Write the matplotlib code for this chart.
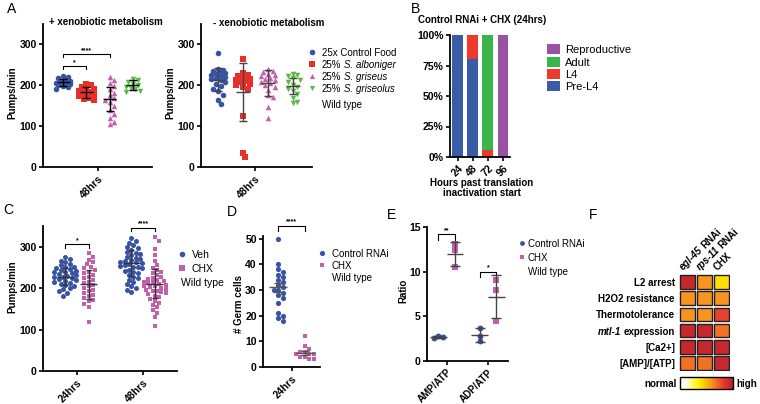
import numpy as np
import matplotlib
matplotlib.use('Agg')
import matplotlib.pyplot as plt
from matplotlib.patches import Rectangle
from matplotlib.colors import LinearSegmentedColormap
from matplotlib.cm import ScalarMappable

plt.rcParams['font.family'] = ['Liberation Sans', 'DejaVu Sans']
plt.rcParams['font.weight'] = 'bold'
plt.rcParams['axes.linewidth'] = 1.3

W, H = 760, 404

# ---------------- data ----------------
# A: pumps/min at 48hrs, + / - xenobiotic metabolism
food_labels = ['25x Control Food', 'S. alboniger', 'S. griseus', 'S. griseolus']
plus_ctrl = [222, 220, 218, 214, 210, 208, 206, 205, 203, 200, 198, 195, 192]
plus_alb = [204, 200, 196, 193, 190, 186, 183, 180, 177, 174, 170, 166, 163]
plus_gri = [220, 212, 205, 198, 190, 182, 175, 170, 165, 158, 150, 140, 130, 120, 110, 105]
plus_grl = [215, 212, 208, 204, 200, 197, 193, 190, 186, 184]
plus_mean = [207, 183, 166, 201]
plus_sd = [9, 13, 29, 13]

minus_ctrl = [279, 240, 238, 235, 232, 230, 228, 225, 222, 220, 218, 215, 212, 208,
              203, 198, 192, 185, 175, 165, 154]
minus_alb = [265, 230, 226, 222, 218, 215, 212, 210, 207, 203, 200, 195, 190, 124, 35, 24]
minus_gri = [240, 236, 232, 228, 225, 222, 218, 215, 212, 208, 205, 200, 195, 188, 175,
             172, 147, 120]
minus_grl = [228, 225, 222, 218, 214, 208, 200, 195, 190, 185, 178, 170, 160, 157]
minus_mean = [214, 183, 206, 199]
minus_sd = [29, 71, 32, 20]

# B: developmental stage (%) after CHX
hours = ['24', '48', '72', '96']
pre_l4 = [100, 80, 0, 0]
l4 = [0, 20, 6, 0]
adult = [0, 0, 94, 0]
reproductive = [0, 0, 0, 100]

# C: pumps/min, Veh vs CHX
c_times = ['24hrs', '48hrs']
veh24 = [274, 270, 266, 262, 258, 255, 252, 250, 248, 246, 244, 242, 240, 238, 236, 234,
         232, 230, 228, 226, 224, 222, 220, 218, 216, 213, 210, 207, 204, 200, 197, 193,
         188, 182]
chx24 = [284, 275, 268, 262, 258, 252, 248, 244, 240, 236, 232, 228, 224, 220, 216, 212,
         208, 204, 200, 196, 192, 188, 184, 180, 176, 172, 168, 162, 155, 119]
veh48 = [320, 315, 310, 305, 300, 296, 292, 288, 285, 282, 279, 276, 273, 270, 268, 266,
         264, 262, 260, 258, 256, 254, 252, 250, 248, 245, 242, 239, 236, 232, 228, 224,
         220, 215, 210, 205, 200, 196, 191]
chx48 = [324, 315, 295, 280, 265, 255, 248, 244, 240, 236, 232, 228, 225, 222, 220, 218,
         216, 214, 212, 210, 208, 206, 204, 202, 200, 198, 196, 194, 192, 190, 188, 185,
         182, 178, 174, 170, 165, 160, 155, 148, 140, 130, 108]
c_mean = [228, 209, 260, 211]
c_sd = [20, 36, 31, 35]

# D: germ cells at 24hrs
germ_ctrl = [50, 40, 38, 37, 36, 35, 34, 33, 32, 31, 30, 30, 29, 28, 27, 25, 21, 20, 19, 18]
germ_chx = [12, 8, 7, 6, 6, 5, 5, 5, 4, 4, 3, 3]
d_mean = [31, 5.5]
d_sem = [1.8, 0.8]

# E: nucleotide ratios
ratio_names = ['AMP/ATP', 'ADP/ATP']
ctrl_amp = [2.8, 2.7, 2.6]
chx_amp = [13.1, 12.4, 10.5]
ctrl_adp = [3.7, 2.8, 2.2]
chx_adp = [9.1, 8.0, 4.5]

# F: phenotype summary
f_rows = ['L2 arrest', 'H2O2 resistance', 'Thermotolerance', 'mtl-1 expression',
          '[Ca2+]', '[AMP]/[ATP]']
f_cols = ['egl-45 RNAi', 'rps-11 RNAi', 'CHX']
f_vals = [[0.93, 0.60, 0.40],
          [0.60, 0.60, 0.60],
          [0.60, 0.60, 0.80],
          [0.93, 0.93, 0.68],
          [0.93, 0.93, 0.93],
          [0.68, 0.68, 0.93]]

BLUE = '#3853a4'
RED = '#e8302a'
PINK = '#c260ab'
GREEN = '#5cb947'
B_BLUE, B_RED, B_GREEN, B_PURPLE = '#3a5ba8', '#ee3a2b', '#3ab54a', '#9b52a3'

fig = plt.figure(figsize=(7.6, 4.04), dpi=100)
lay = fig.add_axes([0, 0, 1, 1], zorder=10)
lay.set_xlim(0, W); lay.set_ylim(H, 0); lay.axis('off')
rend = fig.canvas.get_renderer()


def panel(x0, y0, x1, y1):
    ax = fig.add_axes([x0 / W, 1 - y1 / H, (x1 - x0) / W, (y1 - y0) / H])
    ax.spines[['top', 'right']].set_visible(False)
    ax.tick_params(direction='out', length=3, width=1.2, labelsize=7.5, pad=1.5)
    ax.patch.set_alpha(0)
    return ax


def swarm(vals, sx, sy, d, maxw):
    # horizontal offsets (pixel packing) so markers overlap as little as possible
    vals = np.asarray(vals, float)
    offs = np.zeros(len(vals))
    placed = []
    steps = np.arange(0, maxw + 0.01, d * 0.5)
    cands = [0.0]
    for st in steps[1:]:
        cands += [st, -st]
    for i in np.argsort(-vals):
        y = vals[i] * sy
        best, bestd = 0.0, -1
        for c in cands:
            md = min([np.hypot(c - px, y - py) for px, py in placed], default=1e9)
            if md >= d:
                best = c
                break
            if md > bestd:
                best, bestd = c, md
        placed.append((best, y))
        offs[i] = best / sx
    return offs


def dots(ax, pos, vals, mean, err, color, marker, sx, sy, d, maxw, s, ec='black', mw=0.28,
         cap=3):
    offs = swarm(vals, sx, sy, d, maxw)
    ax.scatter(pos + offs, vals, s=s, c=color, marker=marker, linewidths=0, zorder=2,
               clip_on=False)
    ax.hlines(mean, pos - mw, pos + mw, color=ec, lw=1, zorder=3)
    ax.errorbar(pos, mean, yerr=err, fmt='none', ecolor=ec, elinewidth=1, capsize=cap,
                capthick=1, zorder=3)


def bracket(ax, x0, x1, y, h, label, fs=5):
    ax.plot([x0, x0, x1, x1], [y - h, y, y, y - h], color='black', lw=0.8, clip_on=False)
    ax.text((x0 + x1) / 2, y, label, ha='center', va='bottom', fontsize=fs, clip_on=False)


def tw(s, size, weight, style):
    t = lay.text(0, 0, s, fontsize=size, fontweight=weight, fontstyle=style)
    w = t.get_window_extent(renderer=rend).width
    t.remove()
    return w


def rich(x, y, parts, size=7, weight='normal', ha='left', rot=0):
    sp = tw('x x', size, weight, 'normal') - tw('xx', size, weight, 'normal')
    ws = [tw(p, size, weight, st) for p, st in parts]
    total = sum(ws) + sp * (len(parts) - 1)
    c, s_ = np.cos(np.radians(rot)), np.sin(np.radians(rot))
    pos = 0 if ha == 'left' else -total
    for (p, st), w in zip(parts, ws):
        lay.text(x + pos * c, y - pos * s_, p, fontsize=size, fontweight=weight,
                 fontstyle=st, ha='left', va='center_baseline' if rot == 0 else 'baseline',
                 rotation=rot, rotation_mode='anchor')
        pos += w + sp


def key(x, y, marker, color, s):
    lay.scatter([x], [y], marker=marker, s=s, c=color, linewidths=0, clip_on=False)


def ltext(x, y, s, size=7):
    lay.text(x, y, s, fontsize=size, fontweight='normal', ha='left', va='center_baseline')


# ---------------- A ----------------
def xeno_panel(box, xl, groups, means, sds, sx, ec):
    ax = panel(*box)
    ax.set_xlim(*xl); ax.set_ylim(0, 350)
    styles = [(BLUE, 'o', 16), (RED, 's', 14), (PINK, '^', 16), (GREEN, 'v', 16)]
    for i, (vals, (col, mk, s)) in enumerate(zip(groups, styles)):
        dots(ax, i, vals, means[i], sds[i], col, mk, sx, 0.41, 4.8, 9, s, ec=ec, cap=2.8)
    ax.set_yticks([0, 100, 200, 300])
    ax.set_xticks([1.5])
    ax.set_xticklabels(['48hrs'], rotation=45, ha='right', rotation_mode='anchor')
    return ax


axA1 = xeno_panel((43, 24, 152, 167), (-0.86, 3.82),
                  [plus_ctrl, plus_alb, plus_gri, plus_grl], plus_mean, plus_sd, 23.3, 'black')
bracket(axA1, 0, 1, 247, 8, '*')
bracket(axA1, 0, 2, 277, 8, '****')
axA2 = xeno_panel((201, 24, 312, 167), (-0.69, 3.78),
                  [minus_ctrl, minus_alb, minus_gri, minus_grl], minus_mean, minus_sd, 24.7,
                  '#444444')

lay.text(12, 9, 'A', fontsize=10, fontweight='normal', ha='center', va='center')
lay.text(49, 22, '+ xenobiotic metabolism', fontsize=7, ha='left', va='center')
lay.text(213, 23, '- xenobiotic metabolism', fontsize=7, ha='left', va='center')
lay.text(12, 93, 'Pumps/min', fontsize=7, rotation=90, ha='center', va='center')
lay.text(170, 93, 'Pumps/min', fontsize=7, rotation=90, ha='center', va='center')

leg_y = [52, 64, 76, 88]
for yy, (col, mk, s) in zip(leg_y, [(BLUE, 'o', 16), (RED, 's', 14), (PINK, '^', 14),
                                     (GREEN, 'v', 14)]):
    key(312, yy, mk, col, s)
ltext(322, leg_y[0], food_labels[0])
for yy, name in zip(leg_y[1:], food_labels[1:]):
    rich(322, yy, [('25%', 'normal'), (name, 'italic')])
ltext(322, 104, 'Wild type')

# ---------------- B ----------------
axB = panel(450, 35, 510, 157)
xb = np.arange(len(hours))
bottom = np.zeros(len(hours))
for vals, col in [(pre_l4, B_BLUE), (l4, B_RED), (adult, B_GREEN), (reproductive, B_PURPLE)]:
    axB.bar(xb, vals, width=0.72, bottom=bottom, color=col, linewidth=0)
    bottom += np.array(vals)
axB.set_xlim(-0.52, 3.47); axB.set_ylim(0, 100)
axB.set_yticks([0, 25, 50, 75, 100])
axB.set_yticklabels(['0%', '25%', '50%', '75%', '100%'])
axB.set_xticks(xb)
axB.set_xticklabels(hours, rotation=45, ha='right', rotation_mode='anchor')
lay.text(415, 9, 'B', fontsize=10, fontweight='normal', ha='center', va='center')
lay.text(482, 20, 'Control RNAi + CHX (24hrs)', fontsize=7, ha='center', va='center')
lay.text(482, 188, 'Hours past translation\ninactivation start', fontsize=7, ha='center',
         va='center', linespacing=1.1)
for yy, col, name in zip([49, 62, 74, 86], [B_PURPLE, B_GREEN, B_RED, B_BLUE],
                         ['Reproductive', 'Adult', 'L4', 'Pre-L4']):
    lay.add_patch(Rectangle((547, yy - 5), 13, 10, color=col, lw=0))
    ltext(565, yy, name, size=8)

# ---------------- C ----------------
axC = panel(43, 226, 177, 371)
axC.set_xlim(-0.515, 1.515); axC.set_ylim(0, 350)
for i, (vals, col, mk) in enumerate([(veh24, BLUE, 'o'), (chx24, PINK, 's'),
                                     (veh48, BLUE, 'o'), (chx48, PINK, 's')]):
    pos = (i // 2) + (-0.18 if i % 2 == 0 else 0.18)
    dots(axC, pos, vals, c_mean[i], c_sd[i], col, mk, 66, 0.413, 4.4, 12,
         13 if mk == 'o' else 11, ec='#333333', mw=0.13, cap=2.5)
axC.set_yticks([0, 100, 200, 300])
axC.set_xticks([0, 1])
axC.set_xticklabels(c_times, rotation=45, ha='right', rotation_mode='anchor')
bracket(axC, -0.18, 0.18, 306, 9, '*')
bracket(axC, 0.82, 1.18, 346, 9, '****')
lay.text(8, 210, 'C', fontsize=10, fontweight='normal', ha='center', va='center')
lay.text(12, 287, 'Pumps/min', fontsize=7, rotation=90, ha='center', va='center')
key(182, 254, 'o', BLUE, 16); ltext(192, 254, 'Veh', size=7.5)
key(182, 268, 's', PINK, 14); ltext(192, 268, 'CHX', size=7.5)
ltext(181, 282, 'Wild type', size=7.5)

# ---------------- D ----------------
axD = panel(263, 236, 320, 367)
axD.set_xlim(-0.556, 1.556); axD.set_ylim(0, 51)
dots(axD, 0, germ_ctrl, d_mean[0], d_sem[0], BLUE, 'o', 27, 2.56, 4.5, 11, 14, ec='#555555',
     mw=0.33, cap=3)
dots(axD, 1, germ_chx, d_mean[1], d_sem[1], PINK, 's', 27, 2.56, 4.5, 10, 12, ec='#555555',
     mw=0.33, cap=3)
axD.set_yticks([0, 10, 20, 30, 40, 50])
axD.set_xticks([0.5])
axD.set_xticklabels(['24hrs'], rotation=45, ha='right', rotation_mode='anchor')
bracket(axD, 0, 1, 55, 2.2, '****')
lay.text(232, 212, 'D', fontsize=10, fontweight='normal', ha='center', va='center')
lay.text(239, 304, '# Germ cells', fontsize=7, rotation=90, ha='center', va='center')
key(322, 253, 'o', BLUE, 14); ltext(332, 253, 'Control RNAi')
key(322, 265, 's', PINK, 12); ltext(332, 265, 'CHX')
ltext(332, 277, 'Wild type')

# ---------------- E ----------------
axE = panel(427, 227, 508, 361)
axE.set_xlim(-0.47, 1.48); axE.set_ylim(0, 15)
for i, (vals, col, mk) in enumerate([(ctrl_amp, BLUE, 'o'), (chx_amp, PINK, 's'),
                                     (ctrl_adp, BLUE, 'o'), (chx_adp, PINK, 's')]):
    pos = (i // 2) + (-0.2 if i % 2 == 0 else 0.2)
    dots(axE, pos, vals, np.mean(vals), np.std(vals, ddof=1), col, mk, 41.5, 8.93, 4.5, 5,
         18 if mk == 'o' else 16, ec='#444444', mw=0.2, cap=3.5)
axE.set_yticks([0, 5, 10, 15])
axE.set_xticks([0, 1])
axE.set_xticklabels(ratio_names, rotation=45, ha='right', rotation_mode='anchor', fontsize=7)
bracket(axE, -0.2, 0.2, 14.2, 0.6, '**')
bracket(axE, 0.8, 1.2, 10.0, 0.6, '*')
lay.text(392, 215, 'E', fontsize=10, fontweight='normal', ha='center', va='center')
lay.text(403, 291, 'Ratio', fontsize=7, rotation=90, ha='center', va='center')
key(522, 243, 'o', BLUE, 12); ltext(528, 243, 'Control RNAi')
key(522, 257, 's', PINK, 10); ltext(528, 257, 'CHX')
ltext(528, 271, 'Wild type')

# ---------------- F ----------------
cmap = LinearSegmentedColormap.from_list(
    'nh', [(0, '#ffffff'), (0.12, '#fffbe0'), (0.35, '#fff200'), (0.6, '#f7941d'),
           (0.82, '#e8392c'), (1, '#b2202e')])
axF = fig.add_axes([679 / W, 1 - 371 / H, 51 / W, 97 / H])
axF.set_xlim(-0.5, 2.5); axF.set_ylim(5.5, -0.5); axF.axis('off')
for i, row in enumerate(f_vals):
    for j, v in enumerate(row):
        axF.add_patch(Rectangle((j - 0.44, i - 0.42), 0.88, 0.84, fc=cmap(v),
                                ec='#231f20', lw=1))
row_y = [274 + 16.17 * (i + 0.5) for i in range(len(f_rows))]
for yy, name in zip(row_y, f_rows):
    if name.startswith('mtl-1'):
        rich(675, yy, [('mtl-1', 'italic'), ('expression', 'normal')], weight='bold', ha='right')
    else:
        lay.text(675, yy, name, fontsize=7, ha='right', va='center_baseline')
col_x = [687.5, 704.5, 721.5]
for xx, name in zip(col_x, f_cols):
    if ' ' in name:
        g, r = name.split(' ')
        rich(xx - 4, 271, [(g, 'italic'), (r, 'normal')], weight='bold', rot=45)
    else:
        lay.text(xx - 4, 271, name, fontsize=7, rotation=45, rotation_mode='anchor',
                 ha='left', va='baseline')
cax = fig.add_axes([680 / W, 1 - 389 / H, 53 / W, 12 / H])
cb = fig.colorbar(ScalarMappable(cmap=cmap), cax=cax, orientation='horizontal', ticks=[])
cb.outline.set_linewidth(1)
lay.text(677, 383, 'normal', fontsize=7, ha='right', va='center_baseline')
lay.text(736, 383, 'high', fontsize=7, ha='left', va='center_baseline')
lay.text(593, 215, 'F', fontsize=10, fontweight='normal', ha='center', va='center')

fig.savefig('out.png', dpi=100, facecolor='white')
